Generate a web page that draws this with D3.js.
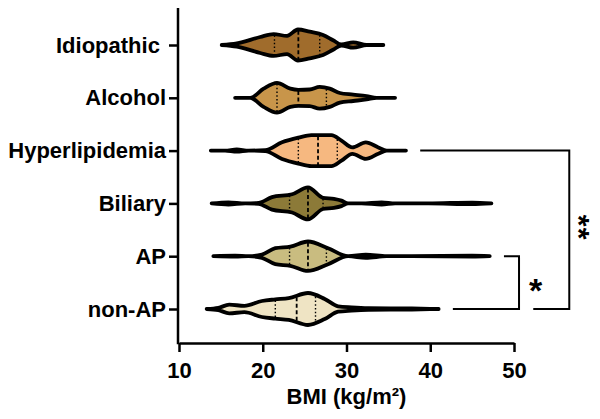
<!DOCTYPE html>
<html><head><meta charset="utf-8">
<script src="https://cdn.jsdelivr.net/npm/d3@7"></script>
<style>
body{margin:0;background:#fff}
text{font-family:"Liberation Sans",Arial,Helvetica,sans-serif;font-weight:bold;fill:#000}
</style>
</head><body>
<svg id="chart" width="600" height="419"></svg>
<script>
// ---- data ----
const categories = ["Idiopathic", "Alcohol", "Hyperlipidemia", "Biliary", "AP", "non-AP"];
const fillColors = ["#a06c2c", "#c8954a", "#f6b880", "#8c7a38", "#c9bc80", "#efe4c4"];
const xTicks = [10, 20, 30, 40, 50];
const xTitle = "BMI (kg/m²)";

// density profiles: BMI value and relative density (0..1)
const idiopathicBMI     = [15.1, 16.9, 19.7, 21.3, 22.9, 24.2, 25.6, 27.2, 28.4, 29.4, 30.8, 32.4, 34.4];
const idiopathicDensity = [0, 0.10, 0.50, 0.68, 0.57, 0.97, 0.83, 0.63, 0.30, 0.03, 0.17, 0, 0];
const alcoholBMI        = [16.7, 18.5, 20.1, 21.7, 23.3, 24.25, 25.6, 26.8, 28.0, 29.2, 30.8, 32.4, 33.6, 35.8];
const alcoholDensity    = [0, 0, 0.57, 0.93, 0.57, 0.50, 0.52, 0.68, 0.57, 0.30, 0.20, 0.10, 0, 0];
const hyperBMI          = [13.8, 15.5, 16.9, 18.3, 20.3, 22.3, 24.25, 25.8, 28.2, 29.4, 30.7, 32.3, 33.8, 34.8, 37.1];
const hyperDensity      = [0, 0, 0.07, 0, 0.03, 0.52, 0.81, 0.97, 0.97, 0.63, 0.20, 0.52, 0.20, 0, 0];
const biliaryBMI        = [13.9, 15.9, 17.9, 19.5, 21.1, 23.5, 25.4, 27.2, 28.5, 29.4, 30.2, 31.8, 34.2, 35.8, 39.8, 45.0, 47.3];
const biliaryDensity    = [0, 0.07, 0, 0.03, 0.39, 0.57, 1.0, 0.35, 0.28, 0.17, 0, 0, 0.07, 0, 0, 0.05, 0];
const apBMI             = [14.1, 16.7, 18.3, 19.9, 21.5, 23.3, 25.4, 27.8, 30.2, 32.3, 34.8, 37.8, 45.0, 47.1];
const apDensity         = [0, 0.03, 0, 0.10, 0.50, 0.60, 0.92, 0.50, 0, 0.10, 0, 0, 0.03, 0];
const nonApBMI          = [13.3, 14.7, 16.0, 17.8, 19.9, 21.5, 23.1, 25.4, 27.4, 29.0, 30.6, 32.6, 37.8, 41.0];
const nonApDensity      = [0, 0.07, 0.27, 0.20, 0.50, 0.60, 0.68, 1.0, 0.63, 0.17, 0.10, 0.05, 0.03, 0];

const profileBMI     = [idiopathicBMI, alcoholBMI, hyperBMI, biliaryBMI, apBMI, nonApBMI];
const profileDensity = [idiopathicDensity, alcoholDensity, hyperDensity, biliaryDensity, apDensity, nonApDensity];

const q1Values     = [21.4, 21.7, 24.25, 23.2, 23.2, 21.5];
const medianValues = [24.25, 24.25, 26.6, 25.4, 25.4, 24.05];
const q3Values     = [26.8, 27.6, 28.9, 27.2, 27.6, 26.3];

// significance comparisons
const compTop    = ["Hyperlipidemia", "AP"];
const compBottom = ["non-AP", "non-AP"];
const compStartTop    = [38.8, 48.8];   // BMI where the upper arm starts
const compStartBottom = [52.3, 42.7];   // BMI where the lower arm starts
const compBar         = [56.6, 50.6];   // BMI of the vertical bar
const compLabel       = ["**", "*"];

// ---- layout ----
const svg = d3.select("#chart");
const axisTop = 8, axisBottomY = 343;
const x = d3.scaleLinear().domain([10, 50]).range([179, 514]);
const y = d3.scalePoint().domain(categories).range([45, 309]);
const w = d3.scaleLinear().domain([0, 1]).range([0, 16]);

// violins
categories.forEach((cat, i) => {
  const cy = y(cat);
  const pts = profileBMI[i].map((b, j) => [b, profileDensity[i][j]]);
  const area = d3.area()
    .x(d => x(d[0]))
    .y0(d => cy - w(d[1]))
    .y1(d => cy + w(d[1]))
    .curve(d3.curveMonotoneX);
  svg.append("path")
    .attr("d", area(pts))
    .attr("fill", fillColors[i])
    .attr("stroke", "#000")
    .attr("stroke-width", 3.8)
    .attr("stroke-linejoin", "round")
    .attr("stroke-linecap", "butt");

  const interp = v => {
    const bs = profileBMI[i], ds = profileDensity[i];
    for (let j = 0; j < bs.length - 1; j++) {
      if (v >= bs[j] && v <= bs[j + 1]) {
        const t = (v - bs[j]) / (bs[j + 1] - bs[j]);
        return ds[j] + t * (ds[j + 1] - ds[j]);
      }
    }
    return 0;
  };
  const qs = [[q1Values[i], "1.5,2.2", 1.4], [medianValues[i], "4,2.5", 1.8], [q3Values[i], "1.5,2.2", 1.4]];
  qs.forEach(([v, dash, sw]) => {
    const hw = Math.max(0, w(interp(v)) - 1.2);
    svg.append("line")
      .attr("x1", x(v)).attr("x2", x(v))
      .attr("y1", cy - hw).attr("y2", cy + hw)
      .attr("stroke", "#000")
      .attr("stroke-width", sw)
      .attr("stroke-dasharray", dash);
  });
});

// x axis
const xAxis = svg.append("g")
  .attr("transform", `translate(0,${axisBottomY})`)
  .call(d3.axisBottom(x).tickValues(xTicks).tickSize(9).tickSizeOuter(0).tickPadding(10));
xAxis.select(".domain").attr("stroke-width", 2.5);
xAxis.selectAll(".tick line").attr("stroke-width", 2.5);
xAxis.selectAll("text").style("font-size", "22px");

// y axis
const yAxis = svg.append("g")
  .attr("transform", `translate(${x(10) - 1},0)`)
  .call(d3.axisLeft(y).tickSize(9).tickPadding(3));
yAxis.select(".domain").remove();
yAxis.append("line")
  .attr("x1", 0).attr("x2", 0)
  .attr("y1", axisTop).attr("y2", axisBottomY + 1.25)
  .attr("stroke", "#000").attr("stroke-width", 2.5);
yAxis.selectAll(".tick line").attr("stroke-width", 2.5);
yAxis.selectAll("text")
  .style("font-size", "22px")
  .style("white-space", "pre")
  .text(d => d === "Idiopathic" ? d + " " : d);

// x title
svg.append("text")
  .attr("x", (x(10) + x(50)) / 2)
  .attr("y", 404)
  .attr("text-anchor", "middle")
  .style("font-size", "22px")
  .text(xTitle);

// significance brackets
compTop.forEach((top, k) => {
  const yt = y(top), yb = y(compBottom[k]);
  const xb = x(compBar[k]);
  svg.append("path")
    .attr("d", `M${x(compStartTop[k])},${yt}H${xb}V${yb}H${x(compStartBottom[k])}`)
    .attr("fill", "none")
    .attr("stroke", "#000")
    .attr("stroke-width", 2);
  const cx = xb + 16.5, cyMid = (yt + yb) / 2;
  if (compLabel[k].length > 1) {
    svg.append("text")
      .attr("transform", `translate(${cx - 16.5},${cyMid - 2}) rotate(90)`)
      .attr("text-anchor", "middle")
      .style("font-size", "30px")
      .style("letter-spacing", "1.5px")
      .text(compLabel[k]);
  } else {
    svg.append("text")
      .attr("x", cx)
      .attr("y", cyMid + 19)
      .attr("text-anchor", "middle")
      .style("font-size", "34px")
      .text(compLabel[k]);
  }
});
</script>
</body></html>
